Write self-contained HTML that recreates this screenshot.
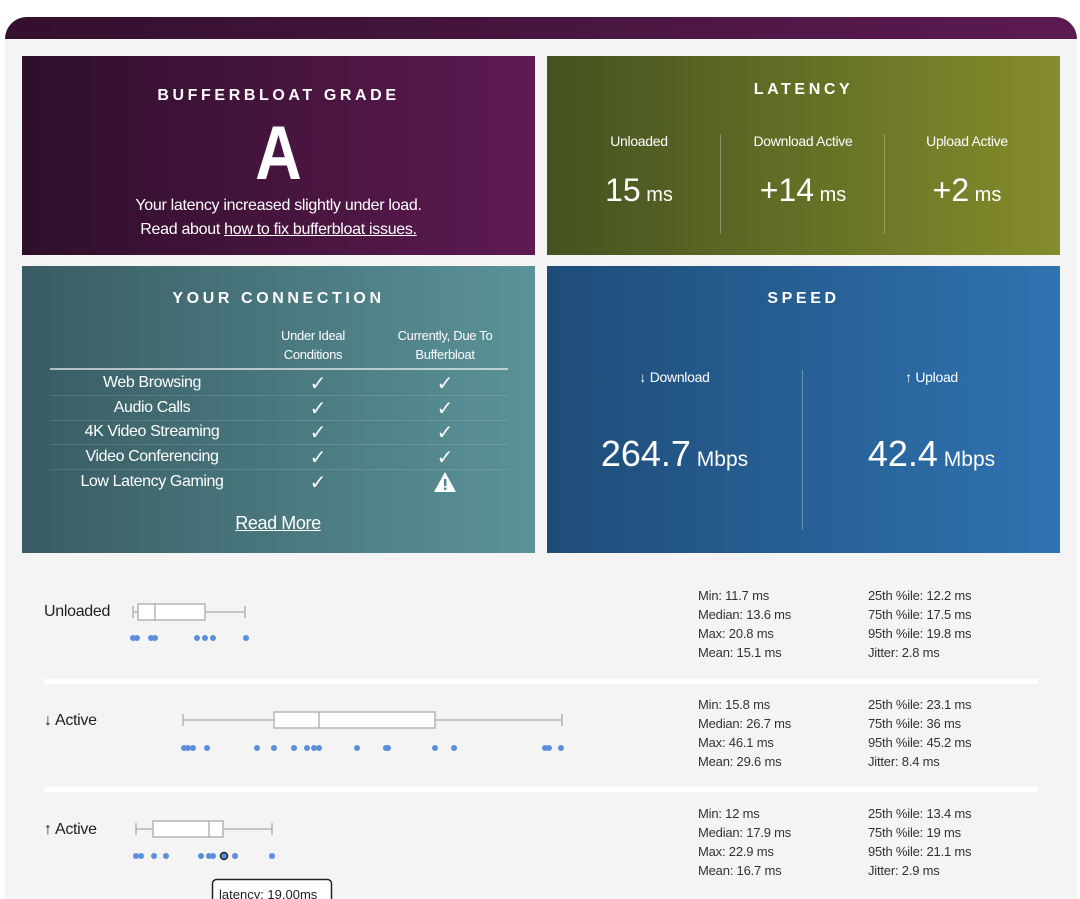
<!DOCTYPE html>
<html><head><meta charset="utf-8"><style>
*{margin:0;padding:0;box-sizing:border-box}
body{width:1080px;height:899px;background:#fff;position:relative;overflow:hidden;font-family:"Liberation Sans",sans-serif;color:#fff}
.a{position:absolute}
.c{text-align:center}
.h{font-family:"Liberation Sans",sans-serif;font-weight:bold;font-size:16px;letter-spacing:3.6px}
.st{font-size:13px;color:#333;line-height:19px;letter-spacing:-0.2px}
.lbl{font-size:16px;color:#222;letter-spacing:-0.3px}
.ck{font-family:"DejaVu Sans",sans-serif;font-weight:bold}
</style></head><body>
<div class="a" style="left:5px;top:17px;width:1072px;height:882px;background:#f4f4f4;border-radius:22px 22px 0 0;overflow:hidden">
<div class="a" style="left:0;top:0;width:1072px;height:22px;background:linear-gradient(90deg,#33102d,#5c1a52)"></div>
</div>
<!-- grade -->
<div class="a" style="left:22px;top:56px;width:513px;height:199px;background:linear-gradient(90deg,#2e0f2a,#5e1a52)">
<div class="a c h" style="left:0;width:513px;top:31px">BUFFERBLOAT GRADE</div>
<div class="a c" style="left:0;width:513px;top:58px;font-size:76px;font-weight:bold;line-height:80px;transform:scaleX(0.85)">A</div>
<div class="a c" style="left:0;width:513px;top:138px;font-size:16px;line-height:24px;letter-spacing:-0.3px">Your latency increased slightly under load.<br>Read about <u>how to fix bufferbloat issues.</u></div>
</div>
<!-- latency -->
<div class="a" style="left:547px;top:56px;width:513px;height:199px;background:linear-gradient(90deg,#445220,#858c2b)">
<div class="a c h" style="left:0;width:513px;top:25px">LATENCY</div>
<div class="a" style="left:173px;top:78px;width:1px;height:100px;background:rgba(255,255,255,.3)"></div>
<div class="a" style="left:337px;top:78px;width:1px;height:100px;background:rgba(255,255,255,.3)"></div>
<div class="a c" style="left:10px;width:164px;top:77px;font-size:14px;letter-spacing:-0.3px">Unloaded</div>
<div class="a c" style="left:174px;width:164px;top:77px;font-size:14px;letter-spacing:-0.3px">Download Active</div>
<div class="a c" style="left:338px;width:164px;top:77px;font-size:14px;letter-spacing:-0.3px">Upload Active</div>
<div class="a c" style="left:10px;width:164px;top:116px;font-size:32px">15<span style="font-size:20px"> ms</span></div>
<div class="a c" style="left:174px;width:164px;top:116px;font-size:32px">+14<span style="font-size:20px"> ms</span></div>
<div class="a c" style="left:338px;width:164px;top:116px;font-size:32px">+2<span style="font-size:20px"> ms</span></div>
</div>
<!-- connection -->
<div class="a" style="left:22px;top:266px;width:513px;height:287px;background:linear-gradient(90deg,#395c63,#5a9399)">
<div class="a c h" style="left:0;width:513px;top:24px">YOUR CONNECTION</div>
<div class="a c" style="left:236px;width:110px;top:60px;font-size:13px;line-height:19px;letter-spacing:-0.3px">Under Ideal<br>Conditions</div>
<div class="a c" style="left:358px;width:130px;top:60px;font-size:13px;line-height:19px;letter-spacing:-0.3px">Currently, Due To<br>Bufferbloat</div>
<div class="a" style="left:28px;top:102px;width:458px;height:2px;background:rgba(255,255,255,.6)"></div>
<div class="a" style="left:28px;top:129px;width:458px;height:1px;background:rgba(255,255,255,.12)"></div>
<div class="a" style="left:28px;top:154px;width:458px;height:1px;background:rgba(255,255,255,.12)"></div>
<div class="a" style="left:28px;top:178px;width:458px;height:1px;background:rgba(255,255,255,.12)"></div>
<div class="a" style="left:28px;top:203px;width:458px;height:1px;background:rgba(255,255,255,.12)"></div>
<div class="a c" style="left:30px;width:200px;top:105px;font-size:16px;line-height:24.7px;letter-spacing:-0.4px">Web Browsing<br>Audio Calls<br>4K Video Streaming<br>Video Conferencing<br>Low Latency Gaming</div>
<div class="a c ck" style="left:266px;width:60px;top:105px;font-size:20px;line-height:24.7px">✓<br>✓<br>✓<br>✓<br>✓</div>
<div class="a c ck" style="left:393px;width:60px;top:105px;font-size:20px;line-height:24.7px">✓<br>✓<br>✓<br>✓</div>
<svg class="a" style="left:411px;top:205px" width="24" height="22"><polygon points="12,1 23,21 1,21" fill="#fff"/><rect x="11" y="8" width="2.4" height="7" fill="#4d8288"/><rect x="11" y="16.5" width="2.4" height="2.4" fill="#4d8288"/></svg>
<div class="a c" style="left:156px;width:200px;top:247px;font-size:18px;letter-spacing:-0.4px"><u>Read More</u></div>
</div>
<!-- speed -->
<div class="a" style="left:547px;top:266px;width:513px;height:287px;background:linear-gradient(90deg,#1e4c78,#2f73b1)">
<div class="a c h" style="left:0;width:513px;top:24px">SPEED</div>
<div class="a" style="left:255px;top:104px;width:1px;height:160px;background:rgba(255,255,255,.3)"></div>
<div class="a c" style="left:0;width:255px;top:103px;font-size:14px;letter-spacing:-0.3px">↓ Download</div>
<div class="a c" style="left:256px;width:257px;top:103px;font-size:14px;letter-spacing:-0.3px">↑ Upload</div>
<div class="a c" style="left:0;width:255px;top:167px;font-size:36px">264.7<span style="font-size:21px"> Mbps</span></div>
<div class="a c" style="left:256px;width:257px;top:167px;font-size:36px">42.4<span style="font-size:21px"> Mbps</span></div>
</div>
<!-- separators -->
<div class="a" style="left:44px;top:679px;width:994px;height:5px;background:#fff"></div>
<div class="a" style="left:44px;top:787px;width:994px;height:5px;background:#fff"></div>
<div class="a lbl" style="left:44px;top:603px">Unloaded</div>
<div class="a lbl" style="left:44px;top:712px">↓ Active</div>
<div class="a lbl" style="left:44px;top:821px">↑ Active</div>
<svg class="a" style="left:0;top:0" width="1080" height="899">
<g stroke="#aaa" stroke-width="1.3" fill="#fff">
<line x1="133" y1="612" x2="245" y2="612"/><line x1="133" y1="606" x2="133" y2="618"/><line x1="245" y1="606" x2="245" y2="618"/>
<rect x="138" y="604" width="67" height="16"/><line x1="155" y1="604" x2="155" y2="620"/>
<line x1="183" y1="720" x2="562" y2="720"/><line x1="183" y1="714" x2="183" y2="726"/><line x1="562" y1="714" x2="562" y2="726"/>
<rect x="274" y="712" width="161" height="16"/><line x1="319" y1="712" x2="319" y2="728"/>
<line x1="136" y1="829" x2="272" y2="829"/><line x1="136" y1="823" x2="136" y2="835"/><line x1="272" y1="823" x2="272" y2="835"/>
<rect x="153" y="821" width="70" height="16"/><line x1="209" y1="821" x2="209" y2="837"/>
</g>
<g fill="#5b8fdc">
<circle cx="133" cy="638" r="3"/><circle cx="137" cy="638" r="3"/><circle cx="151" cy="638" r="3"/><circle cx="155" cy="638" r="3"/><circle cx="197" cy="638" r="3"/><circle cx="205" cy="638" r="3"/><circle cx="213" cy="638" r="3"/><circle cx="246" cy="638" r="3"/>
<circle cx="184" cy="748" r="3"/><circle cx="188" cy="748" r="3"/><circle cx="193" cy="748" r="3"/><circle cx="207" cy="748" r="3"/><circle cx="257" cy="748" r="3"/><circle cx="274" cy="748" r="3"/><circle cx="294" cy="748" r="3"/><circle cx="307" cy="748" r="3"/><circle cx="314" cy="748" r="3"/><circle cx="319" cy="748" r="3"/><circle cx="357" cy="748" r="3"/><circle cx="386" cy="748" r="3"/><circle cx="388" cy="748" r="3"/><circle cx="435" cy="748" r="3"/><circle cx="454" cy="748" r="3"/><circle cx="545" cy="748" r="3"/><circle cx="549" cy="748" r="3"/><circle cx="561" cy="748" r="3"/>
<circle cx="136" cy="856" r="3"/><circle cx="141" cy="856" r="3"/><circle cx="154" cy="856" r="3"/><circle cx="166" cy="856" r="3"/><circle cx="201" cy="856" r="3"/><circle cx="209" cy="856" r="3"/><circle cx="213" cy="856" r="3"/><circle cx="235" cy="856" r="3"/><circle cx="272" cy="856" r="3"/>
<circle cx="224" cy="856" r="3.5" stroke="#222" stroke-width="1.5"/>
</g>
<rect x="212.5" y="879.5" width="119" height="30" rx="4" fill="#fff" stroke="#222" stroke-width="1.5"/>
<text x="219" y="899" font-family="Liberation Sans,sans-serif" font-size="13" fill="#222">latency: 19.00ms</text>
</svg>
<div class="a st" style="left:698px;top:586px">Min: 11.7 ms<br>Median: 13.6 ms<br>Max: 20.8 ms<br>Mean: 15.1 ms</div>
<div class="a st" style="left:868px;top:586px">25th %ile: 12.2 ms<br>75th %ile: 17.5 ms<br>95th %ile: 19.8 ms<br>Jitter: 2.8 ms</div>
<div class="a st" style="left:698px;top:695px">Min: 15.8 ms<br>Median: 26.7 ms<br>Max: 46.1 ms<br>Mean: 29.6 ms</div>
<div class="a st" style="left:868px;top:695px">25th %ile: 23.1 ms<br>75th %ile: 36 ms<br>95th %ile: 45.2 ms<br>Jitter: 8.4 ms</div>
<div class="a st" style="left:698px;top:804px">Min: 12 ms<br>Median: 17.9 ms<br>Max: 22.9 ms<br>Mean: 16.7 ms</div>
<div class="a st" style="left:868px;top:804px">25th %ile: 13.4 ms<br>75th %ile: 19 ms<br>95th %ile: 21.1 ms<br>Jitter: 2.9 ms</div>
</body></html>
